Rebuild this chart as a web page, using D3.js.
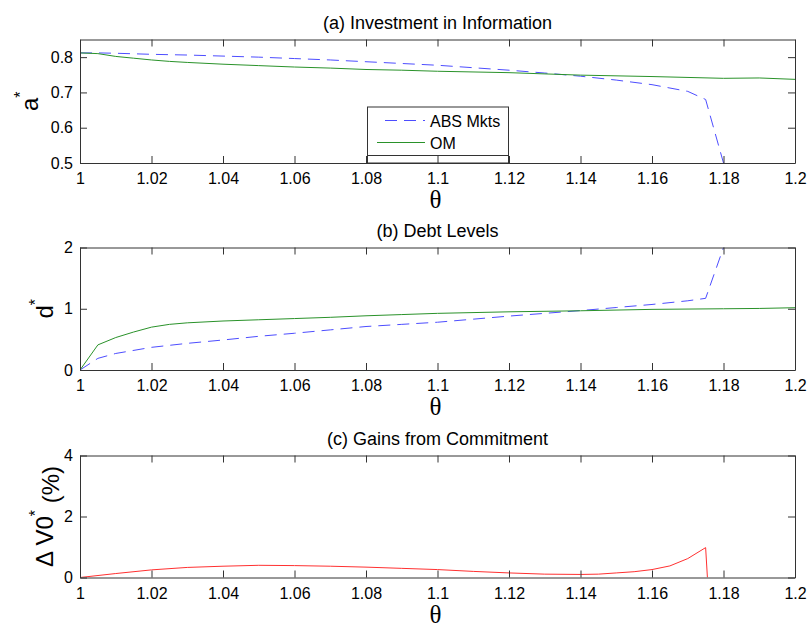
<!DOCTYPE html>
<html>
<head>
<meta charset="utf-8">
<script src="https://cdn.jsdelivr.net/npm/d3@7"></script>
<style>
  body { margin: 0; background: #fff; }
  text { font-family: Arial, "Liberation Sans", sans-serif; fill: #000; }
  .axis path, .axis line { stroke: #333; }
  .axis text { font-size: 16px; font-family: Arial, "Liberation Sans", sans-serif; fill: #000; }
</style>
</head>
<body>
<div id="chart"></div>
<script>
    var w = 808;
    var h = 624;

    // theta grids
    var thetaABS = [1, 1.005, 1.01, 1.02, 1.03, 1.04, 1.05, 1.06, 1.07, 1.08, 1.09, 1.10,
                    1.11, 1.12, 1.13, 1.14, 1.15, 1.16, 1.17, 1.175, 1.18];
    var thetaOM = [1, 1.005, 1.01, 1.015, 1.02, 1.025, 1.03, 1.04, 1.05, 1.06, 1.07, 1.08,
                   1.09, 1.10, 1.12, 1.14, 1.16, 1.18, 1.19, 1.2];
    var thetaGain = [1, 1.01, 1.02, 1.03, 1.04, 1.05, 1.06, 1.07, 1.08, 1.09, 1.10, 1.11,
                     1.12, 1.13, 1.14, 1.145, 1.15, 1.155, 1.16, 1.165, 1.17, 1.175, 1.1755];

    // (a) investment in information
    var absA = [0.812, 0.812, 0.811, 0.808, 0.806, 0.803, 0.800, 0.796, 0.792, 0.787, 0.782, 0.777,
                0.770, 0.763, 0.755, 0.746, 0.735, 0.722, 0.703, 0.680, 0.50];
    var omA = [0.812, 0.810, 0.802, 0.797, 0.792, 0.788, 0.785, 0.780, 0.776, 0.772, 0.769, 0.765,
               0.763, 0.760, 0.756, 0.749, 0.745, 0.740, 0.741, 0.737];

    // (b) debt levels
    var absD = [0, 0.19, 0.27, 0.37, 0.435, 0.49, 0.55, 0.60, 0.655, 0.71, 0.745, 0.78,
                0.83, 0.88, 0.925, 0.97, 1.02, 1.07, 1.13, 1.17, 2.0];
    var omD = [0, 0.41, 0.53, 0.62, 0.70, 0.745, 0.77, 0.80, 0.82, 0.84, 0.86, 0.885,
               0.905, 0.925, 0.95, 0.967, 0.99, 1.0, 1.005, 1.017];

    // (c) gains from commitment
    var gain = [0, 0.13, 0.25, 0.33, 0.37, 0.40, 0.39, 0.37, 0.34, 0.30, 0.26, 0.20,
                0.15, 0.11, 0.10, 0.11, 0.15, 0.19, 0.26, 0.38, 0.62, 0.98, 0];

    var xTicks = [1, 1.02, 1.04, 1.06, 1.08, 1.1, 1.12, 1.14, 1.16, 1.18, 1.2];
    var yTicksA = [0.5, 0.6, 0.7, 0.8];
    var yTicksB = [0, 1, 2];
    var yTicksC = [0, 2, 4];

    var left = 80, right = 795;
    var x = d3.scaleLinear().domain([1, 1.2]).range([left, right]);

    var svg = d3.select('#chart').append('svg')
        .attr('width', w)
        .attr('height', h);

    function zip(xs, ys) {
        return xs.map(function(d, i){ return [d, ys[i]]; });
    }

    var panels = [
        {id: 'a', title: '(a) Investment in Information', top: 39.5, bottom: 163,
         domain: [0.5, 0.85], ticks: yTicksA, ylab: 'a', ylabRest: '', ylabX: 38,
         series: [
            {data: zip(thetaABS, absA), color: '#4d4dff', dash: '12,7'},
            {data: zip(thetaOM, omA), color: '#2a922a', dash: null}
         ]},
        {id: 'b', title: '(b) Debt Levels', top: 247.5, bottom: 370,
         domain: [0, 2], ticks: yTicksB, ylab: 'd', ylabRest: '', ylabX: 53,
         series: [
            {data: zip(thetaABS, absD), color: '#4d4dff', dash: '12,7'},
            {data: zip(thetaOM, omD), color: '#2a922a', dash: null}
         ]},
        {id: 'c', title: '(c) Gains from Commitment', top: 455.5, bottom: 577.5,
         domain: [0, 4], ticks: yTicksC, ylab: '\u0394 V0', ylabRest: ' (%)', ylabX: 53,
         series: [
            {data: zip(thetaGain, gain), color: '#ff3030', dash: null}
         ]}
    ];

    panels.forEach(function(p){
        var y = d3.scaleLinear().domain(p.domain).range([p.bottom, p.top]);
        var g = svg.append('g');

        g.append('clipPath').attr('id', 'clip-' + p.id)
            .append('rect')
            .attr('x', left).attr('y', p.top)
            .attr('width', right - left).attr('height', p.bottom - p.top);

        // lines
        var line = d3.line()
            .x(function(d){ return x(d[0]); })
            .y(function(d){ return y(d[1]); });

        p.series.forEach(function(s){
            g.append('path')
                .datum(s.data)
                .attr('clip-path', 'url(#clip-' + p.id + ')')
                .attr('fill', 'none')
                .attr('stroke', s.color)
                .attr('stroke-width', 1)
                .attr('stroke-dasharray', s.dash)
                .attr('d', line);
        });

        // axes (ticks inside, box on)
        g.append('g').attr('class', 'axis')
            .attr('transform', 'translate(0,' + p.bottom + ')')
            .call(d3.axisBottom(x).tickValues(xTicks).tickSizeInner(-7).tickSizeOuter(0)
                  .tickPadding(10).tickFormat(d3.format('')));
        g.append('g').attr('class', 'axis')
            .attr('transform', 'translate(0,' + p.top + ')')
            .call(d3.axisTop(x).tickValues(xTicks).tickSizeInner(-7).tickSizeOuter(0)
                  .tickFormat(''));
        g.append('g').attr('class', 'axis')
            .attr('transform', 'translate(' + left + ',0)')
            .call(d3.axisLeft(y).tickValues(p.ticks).tickSizeInner(-7).tickSizeOuter(0)
                  .tickPadding(7).tickFormat(d3.format('')));
        g.append('g').attr('class', 'axis')
            .attr('transform', 'translate(' + right + ',0)')
            .call(d3.axisRight(y).tickValues(p.ticks).tickSizeInner(-7).tickSizeOuter(0)
                  .tickFormat(''));

        // title
        g.append('text')
            .attr('x', (left + right) / 2)
            .attr('y', p.top - 11)
            .attr('text-anchor', 'middle')
            .style('font-size', '18px')
            .text(p.title);

        // x label
        g.append('text')
            .attr('x', (left + right) / 2 - 2)
            .attr('y', p.bottom + 45)
            .attr('text-anchor', 'middle')
            .style('font-family', '"Times New Roman", "Liberation Serif", serif')
            .style('font-size', '25px')
            .text('\u03b8');

        // y label
        var yl = g.append('text')
            .attr('transform', 'translate(' + p.ylabX + ',' + ((p.top + p.bottom) / 2) + ') rotate(-90)')
            .attr('text-anchor', 'middle')
            .style('font-size', '24px');
        yl.append('tspan').text(p.ylab);
        yl.append('tspan').attr('dy', '-0.75em').style('font-size', '16px').text('*');
        if (p.ylabRest) {
            yl.append('tspan').attr('dy', '0.75em').text(p.ylabRest);
        }

        // legend in panel (a)
        if (p.id === 'a') {
            var lg = g.append('g');
            lg.append('rect')
                .attr('x', 367.5).attr('y', 107)
                .attr('width', 141).attr('height', p.bottom - 107)
                .attr('fill', '#fff').attr('stroke', '#333');
            lg.append('line')
                .attr('x1', 367.5).attr('x2', 508.5).attr('y1', 155.5).attr('y2', 155.5)
                .attr('stroke', '#333');
            var entries = [
                {label: 'ABS Mkts', color: '#4d4dff', dash: '12,7', x1: 385, y: 120.5},
                {label: 'OM', color: '#2a922a', dash: null, x1: 377, y: 142.5}
            ];
            entries.forEach(function(e){
                lg.append('line')
                    .attr('x1', e.x1).attr('x2', 425).attr('y1', e.y).attr('y2', e.y)
                    .attr('stroke', e.color).attr('stroke-dasharray', e.dash);
                lg.append('text')
                    .attr('x', 430).attr('y', e.y + 6)
                    .style('font-size', '16px')
                    .text(e.label);
            });
            // ticks that sit over the legend box
            g.append('g').attr('class', 'axis')
                .attr('transform', 'translate(0,' + p.bottom + ')')
                .call(d3.axisBottom(x).tickValues([1.08, 1.1, 1.12]).tickSizeInner(-7)
                      .tickSizeOuter(0).tickFormat(''))
                .select('.domain').remove();
        }
    });
</script>
</body>
</html>
